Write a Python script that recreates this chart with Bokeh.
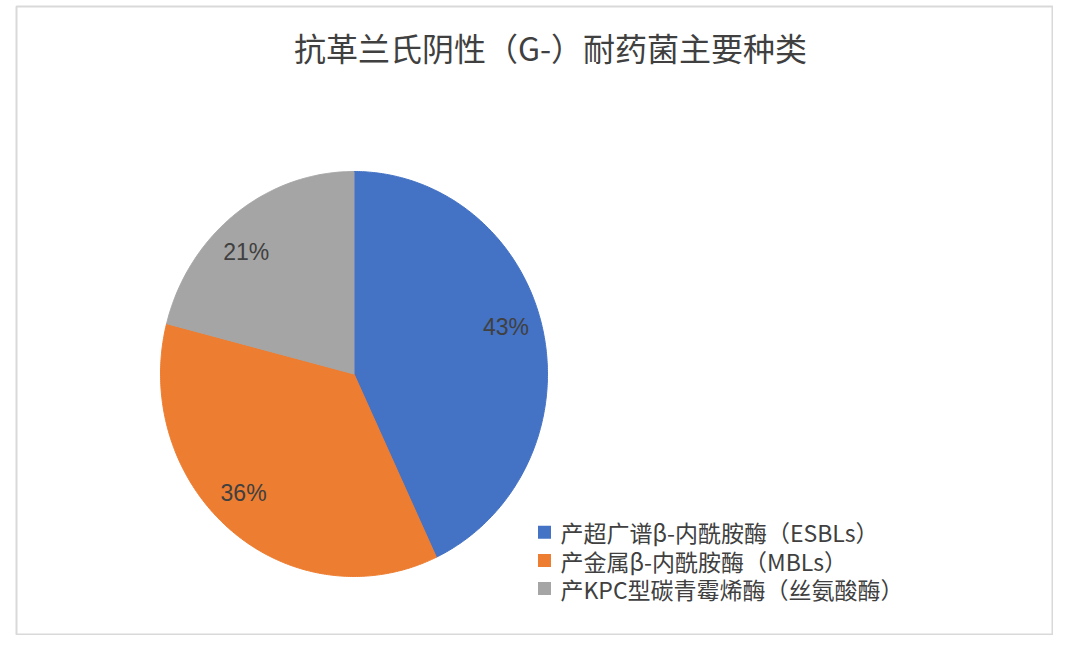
import numpy as np
from bokeh.plotting import figure
from bokeh.models import Range1d
from bokeh.core.properties import value
from bokeh.embed import file_html
from bokeh.resources import INLINE

# ---- data ----
title_text = "抗革兰氏阴性（G-）耐药菌主要种类"
categories = [
    "产超广谱β-内酰胺酶（ESBLs）",
    "产金属β-内酰胺酶（MBLs）",
    "产KPC型碳青霉烯酶（丝氨酸酶）",
]
shares = [43, 36, 21]
colors = ["#4472C4", "#ED7D31", "#A5A5A5"]

# ---- layout helpers (page pixel coordinates) ----
PAGE_H = 658


def Y(py):
    return PAGE_H - py


p = figure(
    width=1053, height=635,
    x_range=Range1d(16, 1052), y_range=Range1d(Y(634), Y(6)),
    output_backend="svg", toolbar_location=None,
    x_axis_location=None, y_axis_location=None,
    min_border_left=16, min_border_right=1, min_border_top=6, min_border_bottom=1,
)
p.grid.visible = False
p.outline_line_color = "#d9d9d9"
p.outline_line_width = 2
p.background_fill_color = "white"
p.border_fill_color = "white"

# ---- pie ----
cx, cy = 353.5, Y(373.5)
rx, ry = 193.5, 202.5
fr = np.array(shares, dtype=float) / sum(shares)
cum = np.concatenate([[0.0], np.cumsum(fr)])
xs, ys = [], []
for i in range(len(shares)):
    a0 = np.pi / 2 - 2 * np.pi * cum[i]
    a1 = np.pi / 2 - 2 * np.pi * cum[i + 1]
    t = np.linspace(a0, a1, 240)
    xs.append(np.concatenate([[cx], cx + rx * np.cos(t)]))
    ys.append(np.concatenate([[cy], cy + ry * np.sin(t)]))
p.patches(xs, ys, fill_color=colors, line_color=colors, line_width=1)

# ---- data labels ----
nudge_deg = np.array([4.0, -4.5, 5.0])
mid = np.pi / 2 - np.pi * (cum[:-1] + cum[1:]) + np.radians(nudge_deg)
lx = cx + 0.82 * rx * np.cos(mid)
ly = cy + 0.82 * ry * np.sin(mid)
p.text(lx, ly, text=[f"{round(f * 100)}%" for f in fr],
       text_align="center", text_baseline="middle",
       text_font_size="23px", text_color="#404040",
       text_font=value("Liberation Sans"))

# ---- title ----
p.text([550], [Y(46)], text=[title_text], text_align="center", text_baseline="middle",
       text_font_size="32px", text_color="#404040", text_font=value("Noto Sans CJK SC"))

# ---- legend ----
leg_rows = [Y(531.7), Y(560), Y(588)]
p.scatter([544] * 3, leg_rows, marker="square", size=13, fill_color=colors, line_color=None)
p.text([560] * 3, leg_rows, text=categories, text_baseline="middle",
       text_font_size="23px", text_color="#404040", text_font=value("Noto Sans CJK SC"))

open("out.html", "w").write(file_html(p, INLINE))
